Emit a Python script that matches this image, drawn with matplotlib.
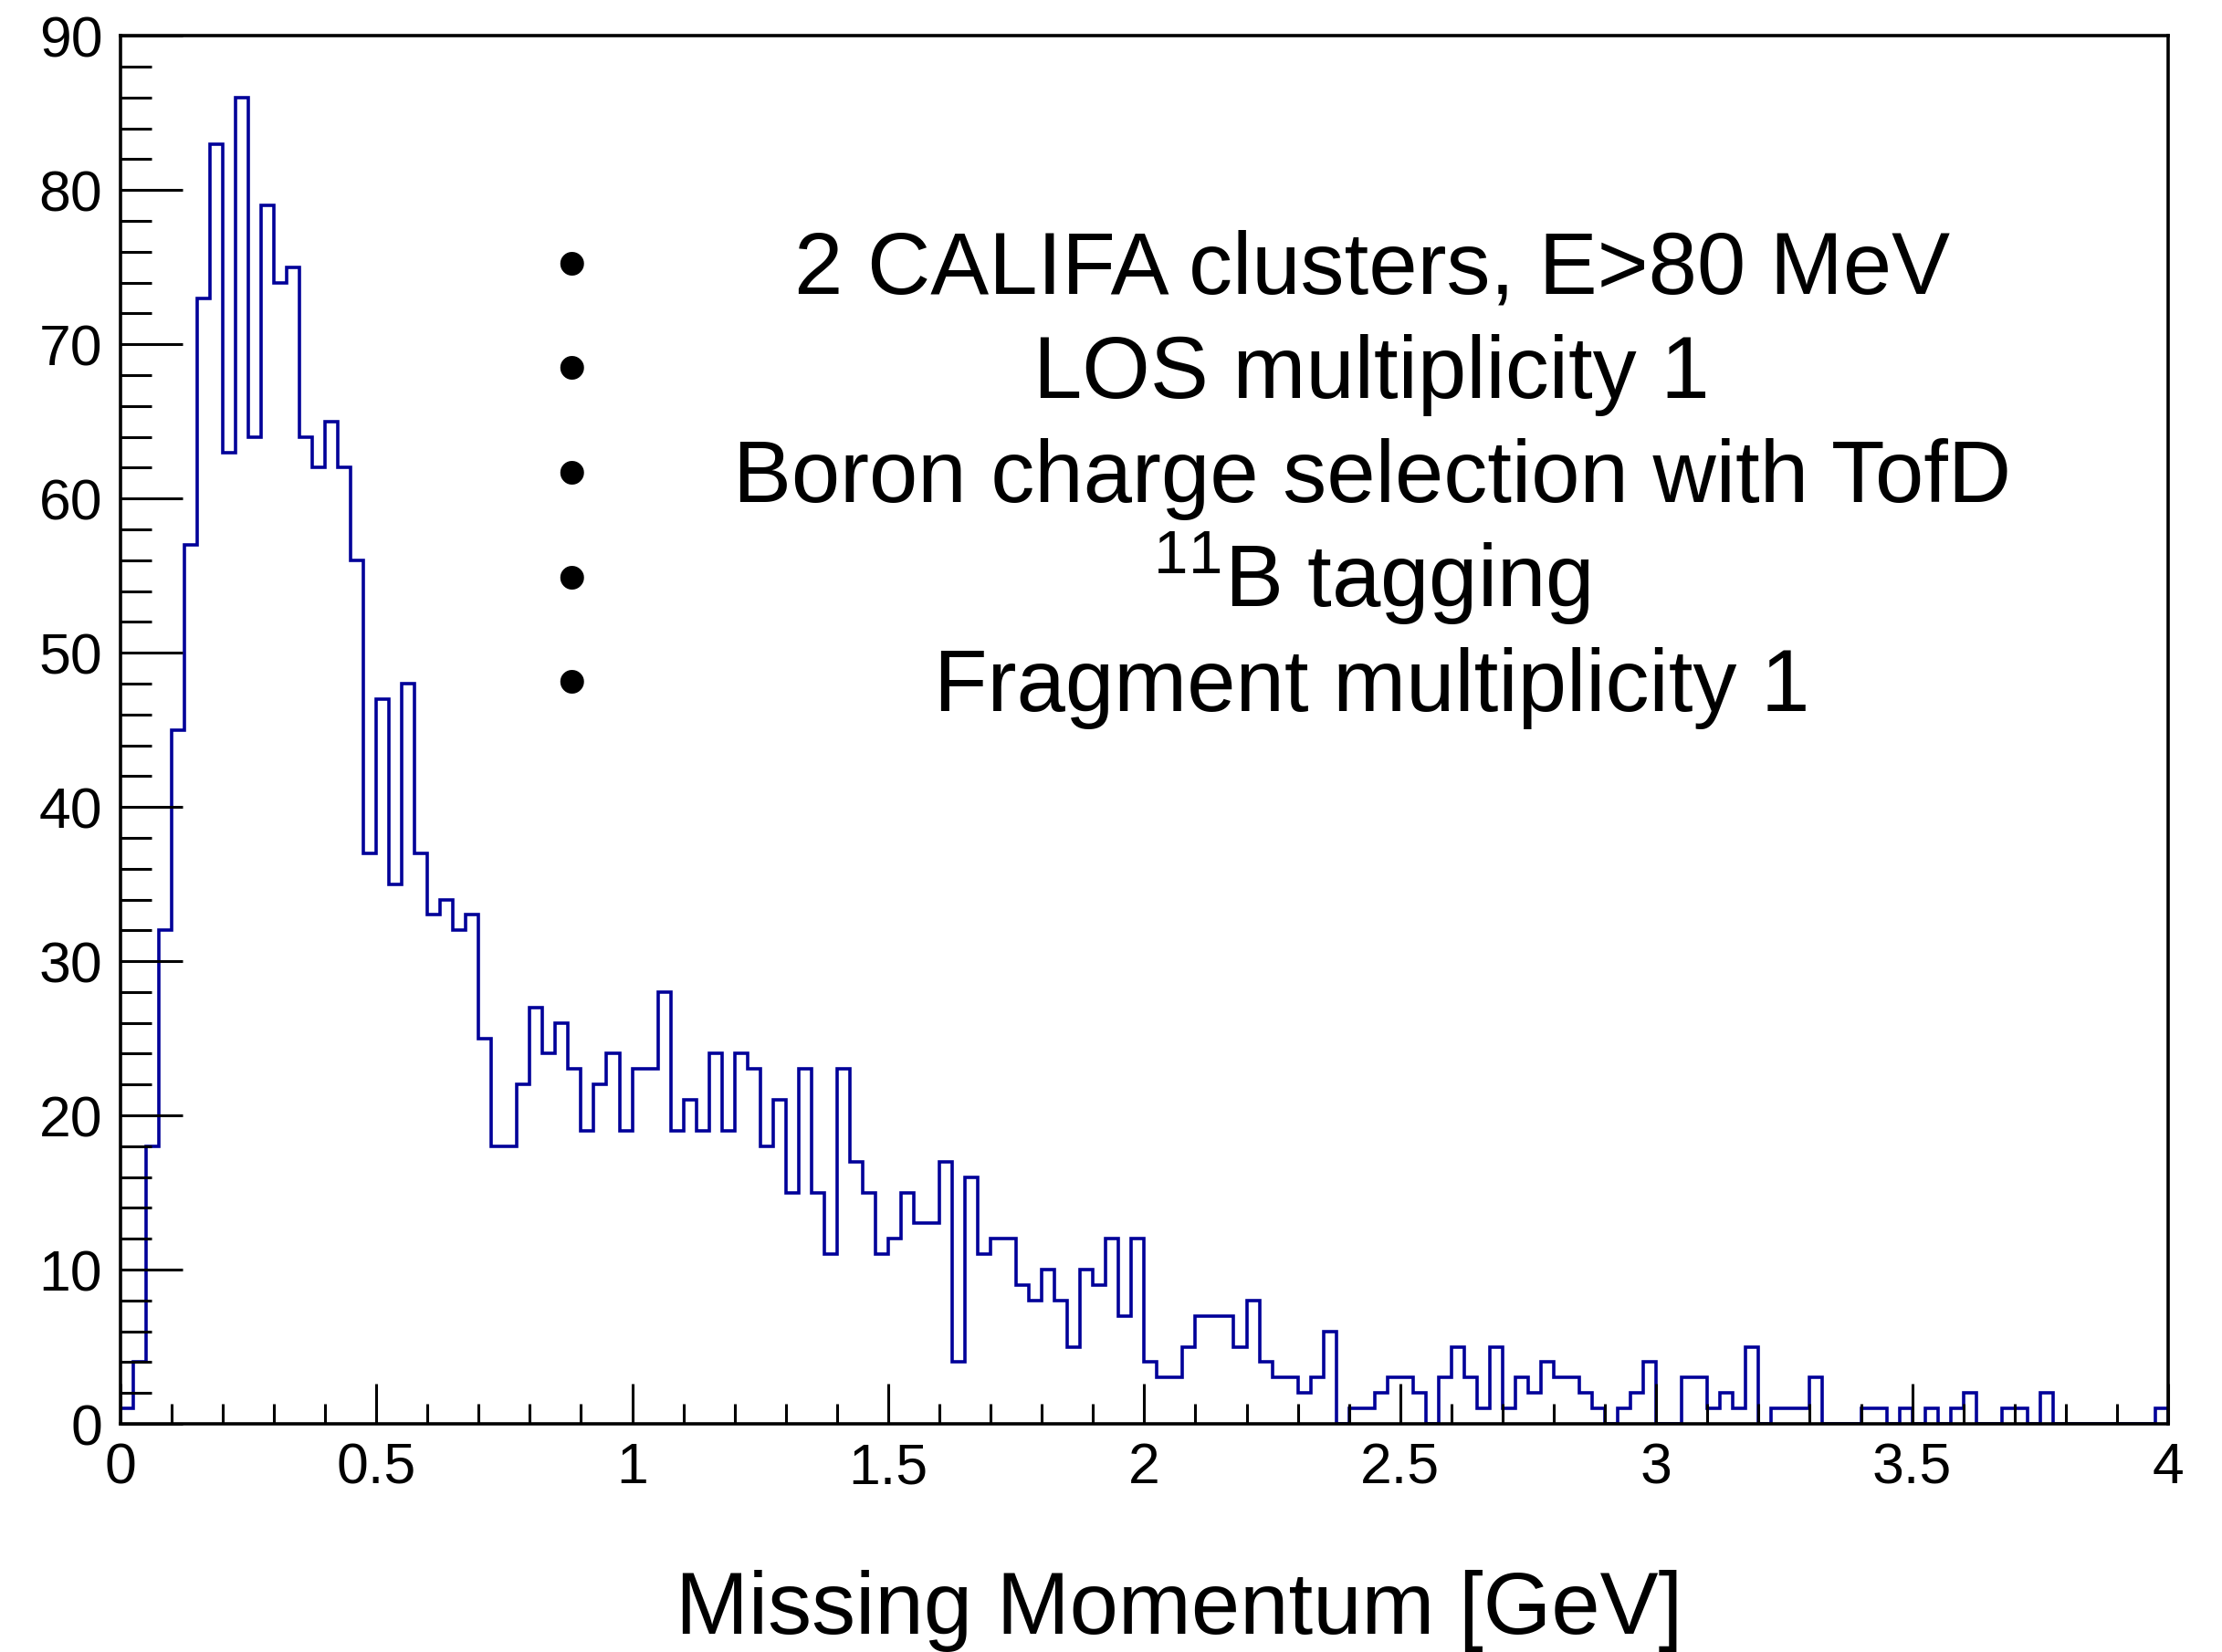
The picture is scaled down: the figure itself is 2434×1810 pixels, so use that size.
"""
Missing momentum spectrum after the event selection cuts,
drawn as a ROOT-style step histogram.
"""

import numpy as np
import matplotlib
matplotlib.use("Agg")
import matplotlib.pyplot as plt
from matplotlib.ticker import MultipleLocator

# ── Data ──────────────────────────────────────────────────────────────────────
X_MIN, X_MAX, N_BINS = 0.0, 4.0, 160

COUNTS = [
    1, 4, 18, 32, 45, 57, 73, 83, 63, 86,
    64, 79, 74, 75, 64, 62, 65, 62, 56, 37,
    47, 35, 48, 37, 33, 34, 32, 33, 25, 18,
    18, 22, 27, 24, 26, 23, 19, 22, 24, 19,
    23, 23, 28, 19, 21, 19, 24, 19, 24, 23,
    18, 21, 15, 23, 15, 11, 23, 17, 15, 11,
    12, 15, 13, 13, 17, 4, 16, 11, 12, 12,
    9, 8, 10, 8, 5, 10, 9, 12, 7, 12,
    4, 3, 3, 5, 7, 7, 7, 5, 8, 4,
    3, 3, 2, 3, 6, 0, 1, 1, 2, 3,
    3, 2, 0, 3, 5, 3, 1, 5, 1, 3,
    2, 4, 3, 3, 2, 1, 0, 1, 2, 4,
    0, 0, 3, 3, 1, 2, 1, 5, 0, 1,
    1, 1, 3, 0, 0, 0, 1, 1, 0, 1,
    0, 1, 0, 1, 2, 0, 0, 1, 1, 0,
    2, 0, 0, 0, 0, 0, 0, 0, 0, 1,
]

X_TICKS = [0, 0.5, 1, 1.5, 2, 2.5, 3, 3.5, 4]
X_TICK_LABELS = ["0", "0.5", "1", "1.5", "2", "2.5", "3", "3.5", "4"]
Y_TICKS = list(range(0, 91, 10))

CUTS = [
    "2 CALIFA clusters, E>80 MeV",
    "LOS multiplicity 1",
    "Boron charge selection with TofD",
    r"$^{11}$B tagging",
    "Fragment multiplicity 1",
]

# ── Style ─────────────────────────────────────────────────────────────────────
FONT = "Liberation Sans"
plt.rcParams["font.family"] = FONT
plt.rcParams["mathtext.fontset"] = "custom"
plt.rcParams["mathtext.rm"] = FONT
plt.rcParams["mathtext.it"] = FONT + ":italic"
plt.rcParams["mathtext.bf"] = FONT + ":bold"

HIST_COLOR = "#000099"
W, H, DPI = 2434, 1810, 100

# ── Figure ────────────────────────────────────────────────────────────────────
fig = plt.figure(figsize=(W / DPI, H / DPI), dpi=DPI)
ax = fig.add_axes([131.7 / W, 1 - 1560 / H, (2375 - 131.7) / W, (1560 - 39.3) / H])

edges = np.linspace(X_MIN, X_MAX, N_BINS + 1)
ax.stairs(COUNTS, edges, color=HIST_COLOR, linewidth=2.6, baseline=0)

ax.set_xlim(X_MIN, X_MAX)
ax.set_ylim(0, 90)

for side in ax.spines.values():
    side.set_linewidth(2.6)
    side.set_zorder(3)

ax.set_xticks(X_TICKS)
ax.set_xticklabels(X_TICK_LABELS)
ax.set_yticks(Y_TICKS)
ax.xaxis.set_minor_locator(MultipleLocator(0.1))
ax.yaxis.set_minor_locator(MultipleLocator(2))

ax.tick_params(axis="both", which="both", direction="in", top=False, right=False,
               labelsize=45, width=2.2, pad=14)
ax.tick_params(axis="x", which="major", length=32)
ax.tick_params(axis="x", which="minor", length=16)
ax.tick_params(axis="y", which="major", length=49)
ax.tick_params(axis="y", which="minor", length=24.5)

# x axis title
fig.text(1291.5 / W, 1 - 1790 / H, "Missing Momentum [GeV]",
         fontsize=69, ha="center", va="baseline")

# list of selection cuts
text_x = 1502.6 / W
bullet_x = 625.6 / W
for i, line in enumerate(CUTS):
    base = 1 - (321 + i * 114.5) / H
    fig.text(bullet_x, base, "\u2022", fontsize=69, ha="center", va="baseline")
    fig.text(text_x, base, line, fontsize=69, ha="center", va="baseline")

fig.savefig("out.png", dpi=DPI)
